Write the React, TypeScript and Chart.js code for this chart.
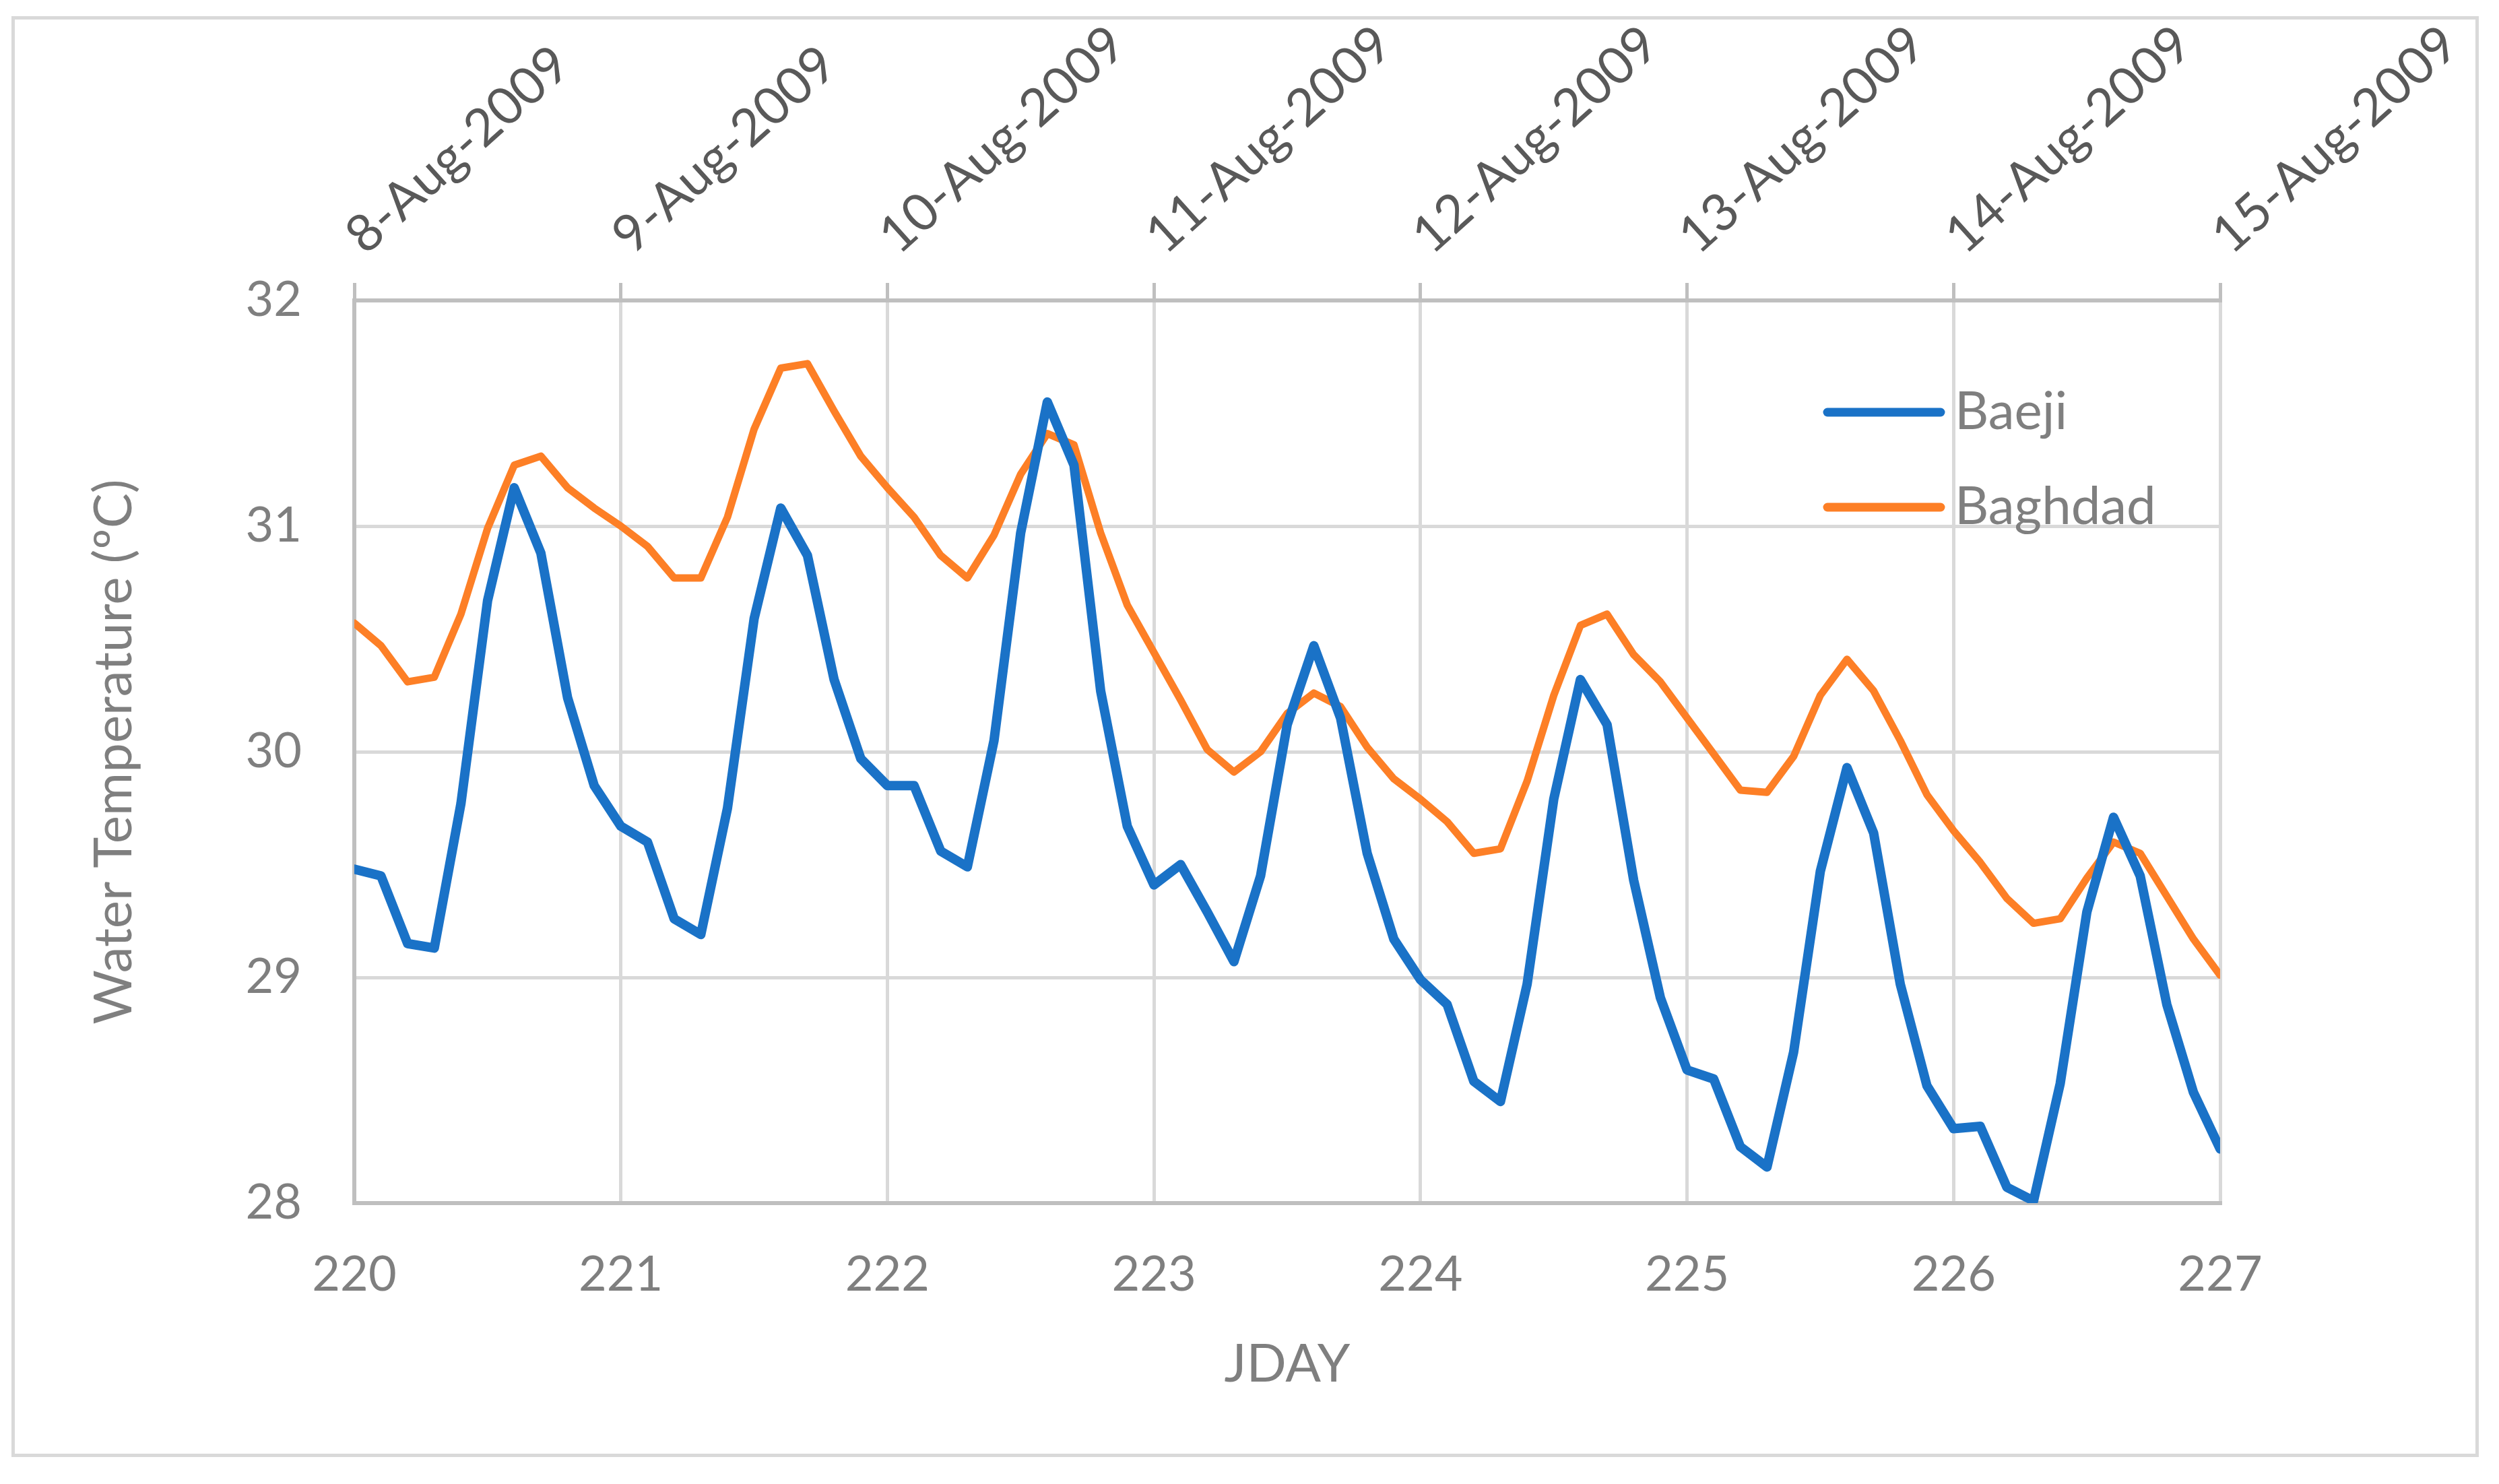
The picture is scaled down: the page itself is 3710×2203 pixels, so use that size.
import { useEffect, useRef } from "react";
import { Chart, registerables } from "chart.js";

Chart.register(...registerables);

// Julian day of each reading (every 0.1 day)
const jday = [
  220.0, 220.1, 220.2, 220.3, 220.4, 220.5, 220.6, 220.7, 220.8, 220.9,
  221.0, 221.1, 221.2, 221.3, 221.4, 221.5, 221.6, 221.7, 221.8, 221.9,
  222.0, 222.1, 222.2, 222.3, 222.4, 222.5, 222.6, 222.7, 222.8, 222.9,
  223.0, 223.1, 223.2, 223.3, 223.4, 223.5, 223.6, 223.7, 223.8, 223.9,
  224.0, 224.1, 224.2, 224.3, 224.4, 224.5, 224.6, 224.7, 224.8, 224.9,
  225.0, 225.1, 225.2, 225.3, 225.4, 225.5, 225.6, 225.7, 225.8, 225.9,
  226.0, 226.1, 226.2, 226.3, 226.4, 226.5, 226.6, 226.7, 226.8, 226.9,
  227.0,
];

const baeji = [
  29.48, 29.45, 29.15, 29.13, 29.77, 30.67, 31.17, 30.88, 30.24, 29.85,
  29.67, 29.6, 29.26, 29.19, 29.75, 30.59, 31.08, 30.87, 30.32, 29.97,
  29.85, 29.85, 29.56, 29.49, 30.05, 30.97, 31.55, 31.27, 30.27, 29.67,
  29.41, 29.5, 29.29, 29.07, 29.45, 30.12, 30.47, 30.15, 29.55, 29.17,
  28.99, 28.88, 28.54, 28.45, 28.97, 29.79, 30.32, 30.12, 29.43, 28.91,
  28.59, 28.55, 28.25, 28.16, 28.67, 29.47, 29.93, 29.64, 28.97, 28.52,
  28.33, 28.34, 28.07, 28.01, 28.53, 29.29, 29.71, 29.45, 28.88, 28.49,
  28.24,
];

const baghdad = [
  30.57, 30.47, 30.31, 30.33, 30.61, 30.99, 31.27, 31.31, 31.17, 31.08,
  31.0, 30.91, 30.77, 30.77, 31.04, 31.43, 31.7, 31.72, 31.51, 31.31,
  31.17, 31.04, 30.87, 30.77, 30.96, 31.23, 31.41, 31.36, 30.97, 30.65,
  30.44, 30.23, 30.01, 29.91, 30.0, 30.17, 30.26, 30.2, 30.02, 29.88,
  29.79, 29.69, 29.55, 29.57, 29.87, 30.25, 30.56, 30.61, 30.43, 30.31,
  30.15, 29.99, 29.83, 29.82, 29.98, 30.25, 30.41, 30.27, 30.05, 29.81,
  29.65, 29.51, 29.35, 29.24, 29.26, 29.44, 29.6, 29.55, 29.36, 29.17,
  29.01,
];

// dates shown on the top axis, one per whole JDAY
const topDates = [
  "8-Aug-2009",
  "9-Aug-2009",
  "10-Aug-2009",
  "11-Aug-2009",
  "12-Aug-2009",
  "13-Aug-2009",
  "14-Aug-2009",
  "15-Aug-2009",
];

const GRAY = "#7f7f7f";
const FONT = "Lato";

// legend sits inside the plot, top right
const insideLegend = {
  id: "insideLegend",
  afterDraw(chart: Chart) {
    const { ctx, chartArea } = chart;
    ctx.save();
    chart.data.datasets.forEach((ds: any, i: number) => {
      const y = chartArea.top + 166 + i * 141;
      const x0 = chartArea.left + 2187;
      ctx.strokeStyle = ds.borderColor;
      ctx.lineWidth = 13;
      ctx.lineCap = "round";
      ctx.beginPath();
      ctx.moveTo(x0, y);
      ctx.lineTo(x0 + 168, y);
      ctx.stroke();
      ctx.fillStyle = GRAY;
      ctx.font = `78px ${FONT}`;
      ctx.textAlign = "left";
      ctx.textBaseline = "middle";
      ctx.fillText(ds.label, x0 + 189, y);
    });
    ctx.restore();
  },
};

export default function App() {
  const canvasRef = useRef<HTMLCanvasElement>(null);
  const chartRef = useRef<Chart | null>(null);

  useEffect(() => {
    if (!canvasRef.current) return;
    if (chartRef.current) chartRef.current.destroy();

    chartRef.current = new Chart(canvasRef.current, {
      type: "line",
      data: {
        datasets: [
          {
            label: "Baeji",
            data: jday.map((x, i) => ({ x, y: baeji[i] })),
            borderColor: "#1a72c7",
            borderWidth: 14,
            pointRadius: 0,
            tension: 0,
            borderJoinStyle: "round",
            borderCapStyle: "round",
          },
          {
            label: "Baghdad",
            data: jday.map((x, i) => ({ x, y: baghdad[i] })),
            borderColor: "#fd7f26",
            borderWidth: 11,
            pointRadius: 0,
            tension: 0,
            borderJoinStyle: "round",
            borderCapStyle: "round",
          },
        ],
      },
      options: {
        responsive: true,
        maintainAspectRatio: false,
        animation: false,
        layout: { padding: { left: 0, top: 0, right: 379, bottom: 0 } },
        plugins: {
          legend: { display: false },
          tooltip: { enabled: false },
        },
        scales: {
          x: {
            type: "linear",
            position: "bottom",
            min: 220,
            max: 227,
            ticks: {
              stepSize: 1,
              color: GRAY,
              font: { family: FONT, size: 72 },
              padding: 64,
              maxRotation: 0,
            },
            grid: { color: "#d9d9d9", lineWidth: 5, drawTicks: false },
            border: { color: "#bfbfbf", width: 6 },
            title: {
              display: true,
              text: "JDAY",
              color: GRAY,
              font: { family: FONT, size: 78 },
              padding: { top: 0, bottom: 85 },
            },
            afterFit: (s: any) => {
              s.height = 372;
            },
          },
          x2: {
            type: "linear",
            position: "top",
            min: 220,
            max: 227,
            ticks: {
              stepSize: 1,
              autoSkip: false,
              minRotation: 42,
              maxRotation: 42,
              color: "#595959",
              font: { family: FONT, size: 77 },
              padding: 24,
              labelOffset: 62,
              callback: (_v: any, i: number) => topDates[i],
            },
            grid: {
              drawOnChartArea: false,
              drawTicks: true,
              tickLength: 26,
              color: "#bfbfbf",
              lineWidth: 5,
            },
            border: { color: "#bfbfbf", width: 6 },
            afterFit: (s: any) => {
              s.height = 417;
            },
          },
          y: {
            type: "linear",
            min: 28,
            max: 32,
            ticks: {
              stepSize: 1,
              color: GRAY,
              font: { family: FONT, size: 72 },
              padding: 78,
            },
            grid: { color: "#d9d9d9", lineWidth: 5, drawTicks: false },
            border: { color: "#bfbfbf", width: 6 },
            title: {
              display: true,
              text: "Water Temperature (ºC)",
              color: GRAY,
              font: { family: FONT, size: 78 },
              padding: { top: 101, bottom: 0 },
            },
            afterFit: (s: any) => {
              s.width = 504;
            },
          },
        },
      },
      plugins: [insideLegend],
    } as any);

    return () => {
      if (chartRef.current) {
        chartRef.current.destroy();
        chartRef.current = null;
      }
    };
  }, []);

  return (
    <div
      style={{
        position: "absolute",
        left: 17,
        top: 24,
        width: 3663,
        height: 2139,
        border: "5px solid #d9d9d9",
        boxSizing: "border-box",
        background: "#fff",
      }}
    >
      <div style={{ position: "relative", width: "100%", height: "100%" }}>
        <canvas ref={canvasRef} />
      </div>
    </div>
  );
}
